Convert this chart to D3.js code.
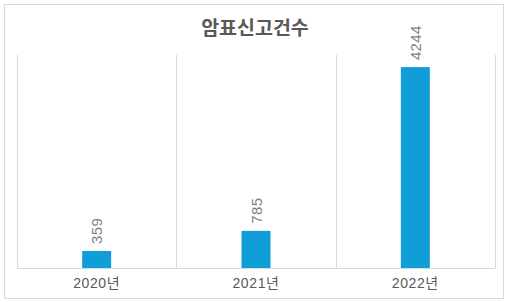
<!DOCTYPE html>
<html><head><meta charset="utf-8">
<script src="https://cdn.jsdelivr.net/npm/d3@7"></script>
<style>body{margin:0;background:#fff}svg{display:block}</style>
</head><body><svg id="c" width="510" height="302"></svg>
<script>
const categories = ["2020년", "2021년", "2022년"];
const values = [359, 785, 4244];
const title = "암표신고건수";

const svg = d3.select("#c");
const font = "'Noto Sans CJK KR', 'Noto Sans', sans-serif";
const numFont = "'Liberation Sans', 'Noto Sans CJK KR', sans-serif";
svg.append("rect").attr("x", 4.5).attr("y", 4.5).attr("width", 499).attr("height", 294)
  .attr("fill", "#fff").attr("stroke", "#d9d9d9");

const m = {l: 17, r: 495, t: 55, b: 268};
const x = d3.scaleBand().domain(categories).range([m.l, m.r]);
const y = d3.scaleLinear().domain([0, 4500]).range([m.b, m.t]);

const seps = [m.l, ...categories.map(c => x(c) + x.bandwidth())];
svg.selectAll("line.sep").data(seps).enter().append("line")
  .attr("x1", d => Math.round(d) + 0.5).attr("x2", d => Math.round(d) + 0.5)
  .attr("y1", m.t).attr("y2", m.b).attr("stroke", "#d9d9d9");

const bw = 29;
svg.selectAll("rect.bar").data(values).enter().append("rect")
  .attr("x", (d, i) => x(categories[i]) + x.bandwidth() / 2 - bw / 2)
  .attr("width", bw)
  .attr("y", d => y(d)).attr("height", d => y(0) - y(d))
  .attr("fill", "#119ed8");

const ax = svg.append("g").attr("transform", `translate(0,${m.b})`)
  .call(d3.axisBottom(x).tickSize(0).tickPadding(10));
ax.select(".domain").attr("stroke", "#d9d9d9").attr("d", `M${m.l},0.5H${m.r}`);
ax.selectAll("text").attr("font-family", numFont).attr("font-size", 14)
  .attr("fill", "#595959").attr("letter-spacing", "0.6px");

svg.selectAll("text.val").data(values).enter().append("text")
  .attr("transform", (d, i) => `translate(${x(categories[i]) + x.bandwidth() / 2 + 5.5},${y(d) - 7}) rotate(-90)`)
  .attr("font-family", numFont).attr("font-size", 15).attr("fill", "#7f7f7f")
  .attr("letter-spacing", "0.4px")
  .text(d => d);

svg.append("text").attr("x", 255).attr("y", 35).attr("text-anchor", "middle")
  .attr("font-family", font).attr("font-size", 19.5).attr("font-weight", "bold")
  .attr("fill", "#595959").text(title);
</script></body></html>
